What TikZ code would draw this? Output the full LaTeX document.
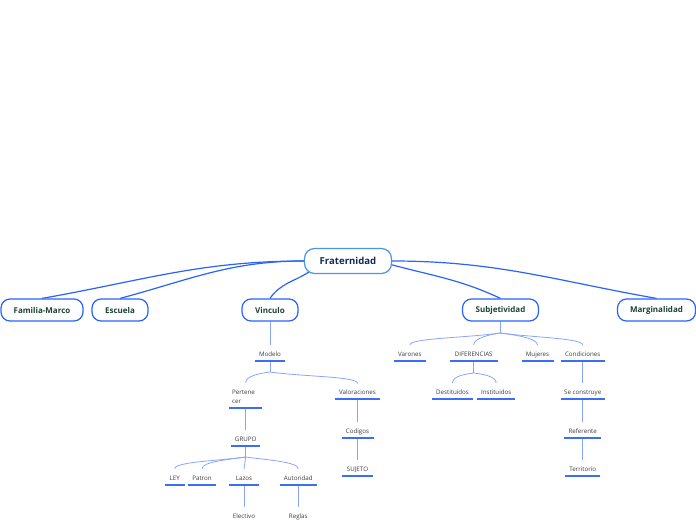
\documentclass[tikz,border=0pt]{standalone}
\usepackage{fontspec}
\setmainfont{Open Sans}
\usetikzlibrary{backgrounds}
\definecolor{mainblue}{RGB}{41,98,255}
\definecolor{rootblue}{RGB}{74,150,228}
\definecolor{linkblue}{RGB}{135,165,255}
\definecolor{ulblue}{RGB}{59,110,245}
\definecolor{nodegreen}{RGB}{27,67,50}
\definecolor{rootnavy}{RGB}{20,40,80}
\definecolor{subgray}{RGB}{60,60,60}
\begin{document}
\begin{tikzpicture}[x=1pt,y=1pt,
  mainbox/.style={draw=mainblue, line width=1.2pt, rounded corners=9pt, fill=white, minimum height=22pt, inner sep=0pt, font=\fontsize{8}{9}\selectfont\bfseries, text=nodegreen},
  rootbox/.style={draw=rootblue, line width=1.2pt, rounded corners=10pt, fill=white, minimum height=25pt, minimum width=87pt, inner sep=0pt, font=\fontsize{9.6}{11}\selectfont\bfseries, text=rootnavy},
  uline/.style={draw=ulblue, line width=2.3pt},
  sub/.style={anchor=south, font=\fontsize{6.2}{9}\selectfont, text=subgray, inner xsep=0pt, inner ysep=3pt, text height=8pt, text depth=1.5pt, append after command={(\tikzlastnode.south west) edge[uline] (\tikzlastnode.south east)}},
  mainlink/.style={draw=mainblue, line width=1.2pt},
  sublink/.style={draw=linkblue, line width=0.8pt},
  bl/.style={out=188, in=90, in max distance=7pt},
  br/.style={out=-8, in=90, in max distance=7pt},
]
\useasboundingbox (0,0) rectangle (696,520);
% main nodes
\node[rootbox] (frat) at (348,259) {Fraternidad};
\node[mainbox, minimum width=82pt] (fam) at (42,210) {Familia-Marco};
\node[mainbox, minimum width=56pt] (esc) at (120,210) {Escuela};
\node[mainbox, minimum width=56pt] (vin) at (270,210) {Vinculo};
\node[mainbox, minimum width=76pt] (subj) at (500.5,210) {Subjetividad};
\node[mainbox, minimum width=78pt] (marg) at (656.5,210) {Marginalidad};
% Vinculo subtree
\node[sub, minimum width=30pt] (modelo) at (270,159) {Modelo};
\node[sub, minimum width=33pt, text height=17pt] (pert) at (245.7,112.3) {\parbox[b]{27pt}{\raggedright Pertene\\cer}};
\node[sub, minimum width=45pt] (valor) at (357.5,120.7) {Valoraciones};
\node[sub, minimum width=29pt] (grupo) at (245.7,73.7) {GRUPO};
\node[sub, minimum width=19.3pt] (ley) at (174.7,35.3) {LEY};
\node[sub, minimum width=27.4pt] (patron) at (202,35.3) {Patron};
\node[sub, minimum width=29pt] (lazos) at (244,35.3) {Lazos};
\node[sub, minimum width=36.7pt] (autor) at (298.3,35.3) {Autoridad};
\node[sub, minimum width=30pt] (electivo) at (244,-2.7) {Electivo};
\node[sub, minimum width=26pt] (reglas) at (298.3,-2.7) {Reglas};
\node[sub, minimum width=31.6pt] (codigos) at (357.5,82.3) {Codigos};
\node[sub, minimum width=30.4pt] (sujeto) at (357.5,44) {SUJETO};
% Subjetividad subtree
\node[sub, minimum width=31.7pt] (varones) at (409.8,159) {Varones};
\node[sub, minimum width=47.3pt] (difer) at (473.7,159) {DIFERENCIAS};
\node[sub, minimum width=31.6pt] (mujeres) at (537.5,159) {Mujeres};
\node[sub, minimum width=43.3pt] (condic) at (582.7,159) {Condiciones};
\node[sub, minimum width=40.4pt] (destit) at (452.5,121) {Destituidos};
\node[sub, minimum width=37.7pt] (instit) at (496.2,121) {Instituidos};
\node[sub, minimum width=44pt] (secons) at (582.7,121) {Se construye};
\node[sub, minimum width=36.7pt] (refer) at (582.7,82.3) {Referente};
\node[sub, minimum width=35pt] (territ) at (582.7,44) {Territorio};
% branch points
\coordinate (bmod) at (270,148);
\coordinate (bgrp) at (245.7,63);
\coordinate (bsubj) at (500.5,187);
\coordinate (bdif) at (473.7,147);
\begin{pgfonlayer}{background}
\draw[mainlink] (frat.west) to[out=180,in=10] (fam.north);
\draw[mainlink] (frat.west) to[out=180,in=15] (esc.north);
\draw[mainlink] ([xshift=5pt,yshift=2pt]frat.south west) to[out=212,in=55] (vin.north);
\draw[mainlink] (frat.-5) to[out=-15,in=155] (subj.north);
\draw[mainlink] (frat.east) to[out=0,in=170] (marg.north);
% Vinculo
\draw[sublink] (vin.south) -- (modelo.north);
\draw[sublink] (modelo.south) -- (bmod);
\draw[sublink] (bmod) to[bl] (pert.north);
\draw[sublink] (bmod) to[br] (valor.north);
\draw[sublink] (pert.south) -- (grupo.north);
\draw[sublink] (grupo.south) -- (bgrp);
\draw[sublink] (bgrp) to[bl] (ley.north);
\draw[sublink] (bgrp) to[bl] (patron.north);
\draw[sublink] (bgrp) -- (lazos.north);
\draw[sublink] (bgrp) to[br] (autor.north);
\draw[sublink] (lazos.south) -- (electivo.north);
\draw[sublink] (autor.south) -- (reglas.north);
\draw[sublink] (valor.south) -- (codigos.north);
\draw[sublink] (codigos.south) -- (sujeto.north);
% Subjetividad
\draw[sublink] (subj.south) -- (bsubj);
\draw[sublink] (bsubj) to[bl] (varones.north);
\draw[sublink] (bsubj) to[bl] (difer.north);
\draw[sublink] (bsubj) to[br] (mujeres.north);
\draw[sublink] (bsubj) to[br] (condic.north);
\draw[sublink] (difer.south) -- (bdif);
\draw[sublink] (bdif) to[bl] (destit.north);
\draw[sublink] (bdif) to[br] (instit.north);
\draw[sublink] (condic.south) -- (secons.north);
\draw[sublink] (secons.south) -- (refer.north);
\draw[sublink] (refer.south) -- (territ.north);
\end{pgfonlayer}
\end{tikzpicture}
\end{document}
